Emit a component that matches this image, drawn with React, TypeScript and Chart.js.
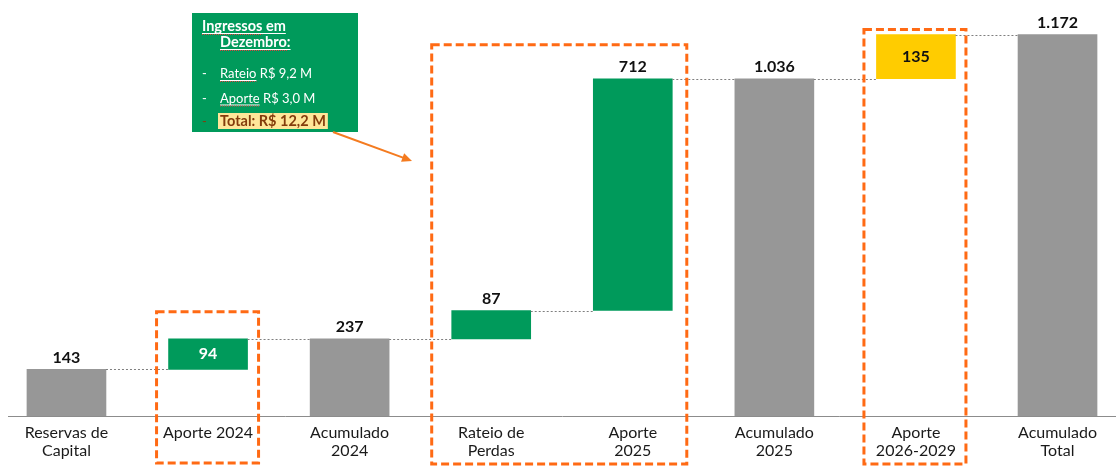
import React, { useEffect, useRef } from "react";
import { Chart, registerables } from "chart.js";

Chart.register(...registerables);

// ---- Data ----
const categories: string[][] = [
  ["Reservas de", "Capital"],
  ["Aporte 2024"],
  ["Acumulado", "2024"],
  ["Rateio de", "Perdas"],
  ["Aporte", "2025"],
  ["Acumulado", "2025"],
  ["Aporte", "2026-2029"],
  ["Acumulado", "Total"],
];
const barBase = [0, 143, 0, 237, 324, 0, 1036, 0];
const barTop = [143, 237, 237, 324, 1036, 1036, 1172, 1172];
const valueLabels = ["143", "94", "237", "87", "712", "1.036", "135", "1.172"];
const barKinds = ["total", "increase", "total", "increase", "increase", "total", "future", "total"];
const labelInside = [false, true, false, false, false, false, true, false];

const noteTitle = ["Ingressos em", "Dezembro:"];
const noteItems = ["Rateio R$ 9,2 M", "Aporte R$ 3,0 M", "Total: R$ 12,2 M"];

// ---- Styles ----
const COLORS: Record<string, string> = {
  total: "#979797",
  increase: "#009A5B",
  future: "#FFCC00",
};
const ORANGE = "#FF6A14";
const FONT = "Lato, 'Noto Sans', sans-serif";
const X_MIN = -0.413;
const X_MAX = 7.413;

function dashedRect(ctx: CanvasRenderingContext2D, l: number, t: number, r: number, b: number) {
  ctx.save();
  ctx.strokeStyle = ORANGE;
  ctx.lineWidth = 3;
  ctx.setLineDash([8, 4]);
  ctx.strokeRect(l, t, r - l, b - t);
  ctx.restore();
}

const overlayPlugin = {
  id: "waterfallOverlay",
  afterDatasetsDraw(chart: any) {
    const ctx: CanvasRenderingContext2D = chart.ctx;
    const meta = chart.getDatasetMeta(0);
    const xs = chart.scales.x;
    const ys = chart.scales.y;
    const bars = meta.data;

    // connectors
    ctx.save();
    ctx.strokeStyle = "#7f7f7f";
    ctx.lineWidth = 1;
    ctx.setLineDash([2, 2]);
    for (let i = 0; i < bars.length - 1; i++) {
      const a = bars[i];
      const b = bars[i + 1];
      const y = Math.round(ys.getPixelForValue(barTop[i])) + 0.5;
      ctx.beginPath();
      ctx.moveTo(a.x + a.width / 2, y);
      ctx.lineTo(b.x - b.width / 2, y);
      ctx.stroke();
    }
    ctx.restore();

    // value labels
    ctx.save();
    ctx.textAlign = "center";
    ctx.textBaseline = "middle";
    ctx.font = `bold 16px ${FONT}`;
    bars.forEach((bar: any, i: number) => {
      if (labelInside[i]) {
        ctx.fillStyle = barKinds[i] === "future" ? "#111" : "#ffffff";
        ctx.fillText(valueLabels[i], bar.x, (bar.y + bar.base) / 2);
      } else {
        ctx.fillStyle = "#111";
        ctx.fillText(valueLabels[i], bar.x, bar.y - 12);
      }
    });
    ctx.restore();

    // dashed highlight boxes
    const px = (i: number) => xs.getPixelForValue(i);
    const py = (v: number) => ys.getPixelForValue(v);
    dashedRect(ctx, px(1) - 51.5, py(barTop[1]) - 27, px(1) + 50.5, 463);
    dashedRect(ctx, px(3) - 59.5, py(barTop[4]) - 34, px(4) + 54, 464);
    dashedRect(ctx, px(6) - 52, py(barTop[6]) - 5, px(6) + 50, 464);

    // note box
    const nx = 192, ny = 13, nw = 166, nh = 119;
    ctx.save();
    ctx.fillStyle = "#009A5B";
    ctx.fillRect(nx, ny, nw, nh);
    ctx.textAlign = "left";
    ctx.textBaseline = "alphabetic";
    const boldFont = `bold 14.5px ${FONT}`;
    const regFont = `13px ${FONT}`;
    ctx.font = boldFont;
    ctx.fillStyle = "#ffffff";
    const tpos = [
      [202, 31],
      [220, 47],
    ];
    noteTitle.forEach((t, i) => {
      const [x, y] = tpos[i];
      ctx.fillText(t, x, y);
      const w = ctx.measureText(t).width;
      ctx.fillRect(x, y + 2, w, 1);
    });
    // spell-check squiggles
    ctx.strokeStyle = "#e04040";
    ctx.lineWidth = 1;
    ctx.setLineDash([1, 1]);
    noteTitle.forEach((t, i) => {
      const [x, y] = tpos[i];
      const w = ctx.measureText(t.split(" ")[0].replace(":", "")).width;
      ctx.beginPath();
      ctx.moveTo(x, y + 3.5);
      ctx.lineTo(x + w, y + 3.5);
      ctx.stroke();
    });
    ctx.setLineDash([]);

    const rowY = [78, 102.5, 126];
    noteItems.forEach((t, i) => {
      const y = rowY[i];
      const isTotal = i === noteItems.length - 1;
      ctx.font = isTotal ? boldFont : regFont;
      const w = ctx.measureText(t).width;
      if (isTotal) {
        ctx.fillStyle = "#FFE699";
        ctx.fillRect(218, y - 13, w + 4, 16);
        ctx.fillStyle = "#843C0C";
      } else {
        ctx.fillStyle = "#ffffff";
      }
      ctx.font = regFont;
      ctx.fillText("-", 202, y);
      ctx.font = isTotal ? boldFont : regFont;
      ctx.fillText(t, 220, y);
      if (!isTotal) {
        const word = t.split(" ")[0];
        const ww = ctx.measureText(word).width;
        ctx.fillStyle = "#ffffff";
        ctx.fillRect(220, y + 2, ww, 1);
        ctx.strokeStyle = "#e04040";
        ctx.setLineDash([1, 1]);
        ctx.beginPath();
        ctx.moveTo(220, y + 3.5);
        ctx.lineTo(220 + ww, y + 3.5);
        ctx.stroke();
        ctx.setLineDash([]);
      }
    });
    ctx.restore();

    // arrow
    ctx.save();
    const x1 = 333, y1 = 132, x2 = 412, y2 = 161;
    ctx.strokeStyle = "#F47B20";
    ctx.fillStyle = "#F47B20";
    ctx.lineWidth = 2;
    const ang = Math.atan2(y2 - y1, x2 - x1);
    ctx.beginPath();
    ctx.moveTo(x1, y1);
    ctx.lineTo(x2 - 6 * Math.cos(ang), y2 - 6 * Math.sin(ang));
    ctx.stroke();
    ctx.beginPath();
    ctx.moveTo(x2, y2);
    ctx.lineTo(x2 - 10 * Math.cos(ang) + 4.5 * Math.sin(ang), y2 - 10 * Math.sin(ang) - 4.5 * Math.cos(ang));
    ctx.lineTo(x2 - 10 * Math.cos(ang) - 4.5 * Math.sin(ang), y2 - 10 * Math.sin(ang) + 4.5 * Math.cos(ang));
    ctx.closePath();
    ctx.fill();
    ctx.restore();
  },
};

export default function App() {
  const canvasRef = useRef<HTMLCanvasElement | null>(null);

  useEffect(() => {
    if (!canvasRef.current) return;
    const chart = new Chart(canvasRef.current, {
      type: "bar",
      data: {
        datasets: [
          {
            data: categories.map((_, i) => ({ x: i, y: [barBase[i], barTop[i]] })) as any,
            backgroundColor: barKinds.map((k) => COLORS[k]),
            borderWidth: 0,
            barThickness: 79,
          },
        ],
      },
      options: {
        responsive: false,
        animation: false,
        layout: { padding: { left: 8, right: 0, top: 0, bottom: 0 } },
        plugins: {
          legend: { display: false },
          tooltip: { enabled: false },
        },
        scales: {
          x: {
            type: "linear",
            offset: false,
            bounds: "data",
            min: X_MIN,
            max: X_MAX,
            grid: { display: false, drawTicks: false, offset: false },
            border: { display: true, color: "#8c8c8c", width: 1 },
            afterBuildTicks: (scale: any) => {
              scale.ticks = categories.map((_, i) => ({ value: i }));
              scale.min = X_MIN;
              scale.max = X_MAX;
            },
            afterFit: (scale: any) => {
              scale.height = 50;
            },
            ticks: {
              autoSkip: false,
              maxRotation: 0,
              minRotation: 0,
              padding: 7,
              color: "#1a1a1a",
              font: { family: FONT, size: 16, lineHeight: 1.17 },
              callback: (_v: any, i: number) => categories[i],
            },
          },
          y: {
            display: false,
            min: 0,
            max: 1278,
          },
        },
      },
      plugins: [overlayPlugin],
    } as any);
    return () => chart.destroy();
  }, []);

  return (
    <div style={{ position: "absolute", left: 0, top: 0, width: 1116, height: 466 }}>
      <canvas ref={canvasRef} width={1116} height={466} style={{ display: "block" }} />
    </div>
  );
}
